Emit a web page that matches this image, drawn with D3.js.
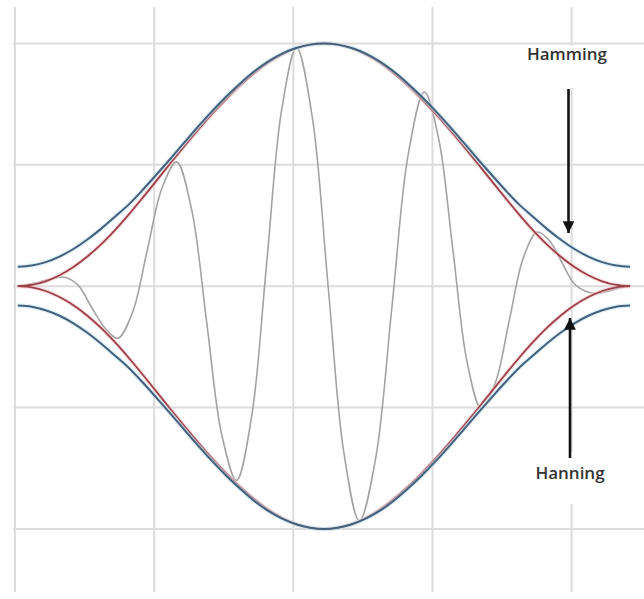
<!DOCTYPE html>
<html>
<head>
<meta charset="utf-8">
<script src="https://cdn.jsdelivr.net/npm/d3@7/dist/d3.min.js"></script>
<style>
  html, body { margin: 0; padding: 0; background: #ffffff; }
  svg { display: block; }
</style>
</head>
<body>
<div id="chart"></div>
<script>
// ---------- data ----------
// sample index of the window (0..44) and envelope values per sample
const samples = d3.range(0, 45);
const hanningHalf = [0, 0.005, 0.020, 0.045, 0.079, 0.122, 0.173, 0.232, 0.297, 0.366, 0.437,
                     0.509, 0.579, 0.647, 0.712, 0.772, 0.828, 0.878, 0.921, 0.955, 0.980, 0.995, 1.000];
const hammingHalf = [0.080, 0.085, 0.099, 0.122, 0.153, 0.192, 0.237, 0.287, 0.338, 0.398, 0.462,
                     0.527, 0.594, 0.660, 0.723, 0.782, 0.836, 0.885, 0.926, 0.958, 0.981, 0.995, 1.000];
// full envelopes (mirror of the half read on the left)
const hanning = samples.map(i => hanningHalf[i <= 22 ? i : 44 - i]);
const hamming = samples.map(i => hammingHalf[i <= 22 ? i : 44 - i]);

// windowed signal (grey), read at its extremes and in between
const signalX = [0, 1.2, 2.3, 3.37, 4.32, 5.28, 6.23, 7.18,
                 8.24, 9.3, 10.35, 11.41,
                 12.49, 13.57, 14.64, 15.72,
                 16.8, 17.88, 18.95, 20.03,
                 21.16, 22.29, 23.42, 24.55,
                 25.72, 26.89, 28.05, 29.22,
                 30.24, 31.27, 32.29, 33.31,
                 34.32, 35.32, 36.33, 37.33,
                 38.21, 39.09, 39.97, 40.85, 41.6, 42.5, 43.3, 44];
const signalY = [0, 0.012, 0.028, 0.037, 0.005, -0.085, -0.17, -0.215,
                 -0.109, 0.147, 0.402, 0.512,
                 0.316, -0.146, -0.608, -0.80,
                 -0.539, 0.092, 0.722, 0.983,
                 0.697, 0.008, -0.681, -0.967,
                 -0.708, -0.084, 0.541, 0.80,
                 0.609, 0.148, -0.313, -0.504,
                 -0.398, -0.141, 0.117, 0.223,
                 0.187, 0.099, 0.011, -0.022, -0.03, -0.02, -0.006, 0];

const gridX = [-0.2, 9.8, 19.8, 29.8, 39.8];
const gridY = [1, 0.5, 0, -0.5, -1];
const labels = ["Hamming", "Hanning"];

// ---------- drawing ----------
const W = 644, H = 599;
const svg = d3.select("#chart").append("svg").attr("width", W).attr("height", H);

const x = d3.scaleLinear().domain([-0.2, 45.0]).range([15, 644]);
const y = d3.scaleLinear().domain([-1.26, 1.15]).range([592, 7]);

// grid
const grid = svg.append("g");
grid.selectAll("line.v").data(gridX).join("line")
  .attr("x1", d => x(d)).attr("x2", d => x(d))
  .attr("y1", y(1.15)).attr("y2", y(-1.26))
  .attr("stroke", "#dcdcdc").attr("stroke-width", 2);
grid.selectAll("line.h").data(gridY).join("line")
  .attr("x1", x(-0.35)).attr("x2", W)
  .attr("y1", d => y(d)).attr("y2", d => y(d))
  .attr("stroke", "#dcdcdc").attr("stroke-width", 2);

// white label boxes hide the grid behind the labels
grid.append("rect").attr("x", 520).attr("y", 46).attr("width", 96).attr("height", 42).attr("fill", "#fff");
grid.append("rect").attr("x", 524).attr("y", 452).attr("width", 92).attr("height", 52).attr("fill", "#fff");

const line = d3.line().x(d => x(d[0])).y(d => y(d[1])).curve(d3.curveCatmullRom.alpha(0.5));

// grey signal
svg.append("path")
  .attr("d", line(signalX.map((v, i) => [v, signalY[i]])))
  .attr("fill", "none").attr("stroke", "#a3a3a3").attr("stroke-width", 1.6);

function envelope(vals, halo, col, wHalo, w) {
  const up = samples.map((s, i) => [s, vals[i]]);
  const dn = samples.map((s, i) => [s, -vals[i]]);
  [up, dn].forEach(pts => {
    svg.append("path").attr("d", line(pts)).attr("fill", "none")
      .attr("stroke", halo).attr("stroke-width", wHalo).attr("stroke-opacity", 0.6);
  });
  [up, dn].forEach(pts => {
    svg.append("path").attr("d", line(pts)).attr("fill", "none")
      .attr("stroke", col).attr("stroke-width", w);
  });
}
envelope(hanning, "#f4c9cf", "#9e4049", 4, 1.8);
envelope(hamming, "#c7e9f4", "#46607b", 4.5, 2);

// labels and arrows
svg.append("text").attr("x", 567).attr("y", 60).attr("text-anchor", "middle")
  .attr("font-family", "'Open Sans', sans-serif").attr("font-size", 17).attr("font-weight", 600)
  .attr("fill", "#333").text(labels[0]);
svg.append("text").attr("x", 570).attr("y", 479).attr("text-anchor", "middle")
  .attr("font-family", "'Open Sans', sans-serif").attr("font-size", 17).attr("font-weight", 600)
  .attr("fill", "#333").text(labels[1]);

const defs = svg.append("defs");
defs.append("marker").attr("id", "ah").attr("viewBox", "0 0 10 10")
  .attr("refX", 10).attr("refY", 5).attr("markerWidth", 4.5).attr("markerHeight", 4.5)
  .attr("markerUnits", "strokeWidth").attr("orient", "auto")
  .append("path").attr("d", "M0,0 L10,5 L0,10 Z").attr("fill", "#111");

svg.append("line").attr("x1", 568.5).attr("x2", 568.5).attr("y1", 89).attr("y2", 233)
  .attr("stroke", "#111").attr("stroke-width", 2.6).attr("marker-end", "url(#ah)");
svg.append("line").attr("x1", 570).attr("x2", 570).attr("y1", 458).attr("y2", 318)
  .attr("stroke", "#111").attr("stroke-width", 2.6).attr("marker-end", "url(#ah)");
</script>
</body>
</html>
